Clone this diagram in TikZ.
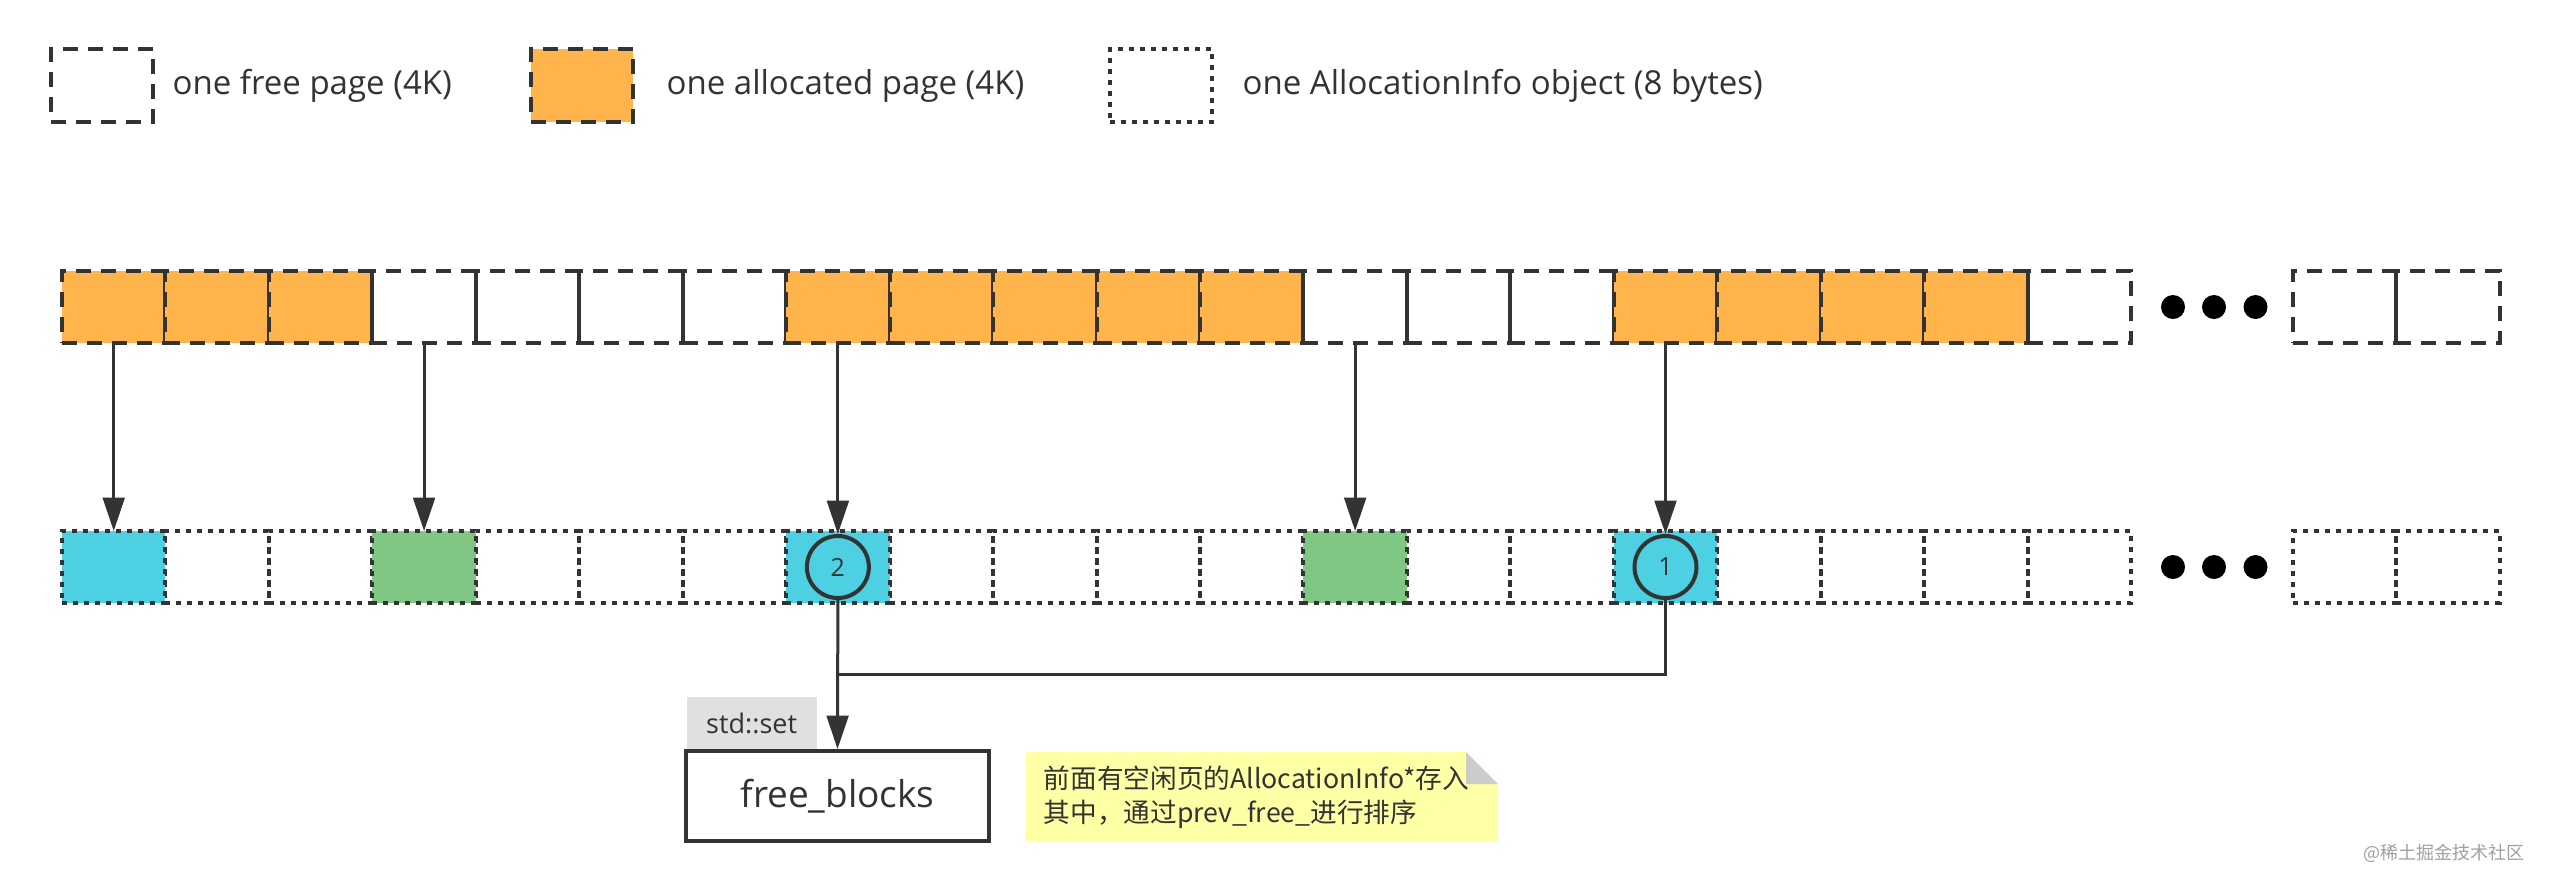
\documentclass[tikz,border=0pt]{standalone}
\usepackage{fontspec}
\setmainfont{Open Sans}
\newfontfamily\cjk{Noto Sans CJK SC}
\usetikzlibrary{arrows.meta}
\definecolor{ink}{HTML}{333333}
\definecolor{alloc}{HTML}{FFB54C}
\definecolor{cyanc}{HTML}{4DD0E1}
\definecolor{greenc}{HTML}{81C784}
\definecolor{notey}{HTML}{FFFFA6}
\definecolor{foldg}{HTML}{CCCCCC}
\definecolor{setg}{HTML}{E0E0E0}
\definecolor{wmark}{HTML}{A0A0A0}
\begin{document}
\begin{tikzpicture}[x=0.3pt,y=-0.3pt,
  pagecell/.style={draw=ink, line width=1.2pt, dash pattern=on 4.5pt off 3pt,
    minimum width=31.03pt, minimum height=21.6pt, inner sep=0pt, outer sep=0pt},
  infocell/.style={draw=ink, line width=1.2pt, dash pattern=on 1.5pt off 1.8pt,
    minimum width=31.03pt, minimum height=21.6pt, inner sep=0pt, outer sep=0pt},
  legbox/.style={draw=ink, line width=1.2pt, minimum width=30.6pt, minimum height=21.9pt,
    inner sep=0pt, outer sep=0pt},
  legtext/.style={anchor=west, text=ink, inner sep=0pt, font=\fontsize{9.9pt}{12pt}\selectfont},
  dotc/.style={circle, fill=black, minimum size=7.2pt, inner sep=0pt},
  ring/.style={circle, draw=ink, line width=1.2pt, minimum size=18.6pt, inner sep=0pt,
    text=ink, font=\fontsize{7.5pt}{9pt}\selectfont},
  conn/.style={draw=ink, line width=0.9pt, -{Triangle[length=10pt,width=6.5pt]}},
  plain/.style={draw=ink, line width=0.9pt}
]
\useasboundingbox (0,0) rectangle (2550,889);
\fill[white] (0,0) rectangle (2550,889);

% legend
\node[legbox, dash pattern=on 4.5pt off 3pt] (leg1) at (102,85.5) {};
\node[legtext] (legt1) at (172,86) {one free page (4K)};
\node[legbox, fill=alloc, dash pattern=on 4.5pt off 3pt] (leg2) at (582,85.5) {};
\node[legtext] (legt2) at (666,86) {one allocated page (4K)};
\node[legbox, dash pattern=on 1.5pt off 1.8pt] (leg3) at (1160.5,85.5) {};
\node[legtext] (legt3) at (1242,86) {one AllocationInfo object (8 bytes)};

% top row: pages
\foreach \i in {0,...,19} {
  \pgfmathsetmacro{\cx}{62+\i*103.45+51.725}
  \pgfmathtruncatemacro{\isalloc}{(\i<3) || (\i>6 && \i<12) || (\i>14 && \i<19) ? 1 : 0}
  \ifnum\isalloc=1
    \node[pagecell, fill=alloc] (t\i) at (\cx,307) {};
  \else
    \node[pagecell] (t\i) at (\cx,307) {};
  \fi
}
\node[pagecell] (tr1) at (2344.6,307) {};
\node[pagecell] (tr2) at (2448,307) {};
\node[dotc] (td1) at (2173,307) {};
\node[dotc] (td2) at (2214,307) {};
\node[dotc] (td3) at (2255.5,307) {};

% bottom row: AllocationInfo objects
\foreach \i in {0,...,19} {
  \pgfmathsetmacro{\cx}{62+\i*103.45+51.725}
  \node[infocell] (b\i) at (\cx,567) {};
}
\node[infocell, fill=cyanc] at (b0.center) {};
\node[infocell, fill=greenc] at (b3.center) {};
\node[infocell, fill=cyanc] at (b7.center) {};
\node[infocell, fill=greenc] at (b12.center) {};
\node[infocell, fill=cyanc] at (b15.center) {};
\node[infocell] (br1) at (2344.6,567) {};
\node[infocell] (br2) at (2448,567) {};
\node[dotc] (bd1) at (2173,567) {};
\node[dotc] (bd2) at (2214,567) {};
\node[dotc] (bd3) at (2255.5,567) {};

% numbered markers
\node[ring] (c2) at (b7.center) {2};
\node[ring] (c1) at (b15.center) {1};

% arrows page -> info
\draw[conn] (t0.south) -- (b0.north);
\draw[conn] (t3.south) -- (b3.north);
\draw[conn] (t7.south) -- (c2.north);
\draw[conn] (t12.south) -- (b12.north);
\draw[conn] (t15.south) -- (c1.north);

% std::set free_blocks
\node[draw=ink, line width=1.2pt, minimum width=90.9pt, minimum height=27pt, inner sep=0pt,
  text=ink, font=\fontsize{11.1pt}{13pt}\selectfont] (fb) at (837.5,796) {free\_blocks};
\node[fill=setg, anchor=south west, minimum width=39pt, minimum height=15.6pt, inner sep=0pt,
  text=ink, font=\fontsize{8.1pt}{10pt}\selectfont] (stdset) at (686,750) {std::set};

\coordinate (j) at (837.9,674);
\draw[plain] (c1.south) |- (j);
\draw[conn] (c2.south) -- (fb.north);

% note
\fill[notey] (1026,752) -- (1466,752) -- (1498,784) -- (1498,841) -- (1026,841) -- cycle;
\fill[foldg] (1466,752) -- (1498,784) -- (1466,784) -- cycle;
\node[anchor=west, align=left, inner sep=0pt, text=ink,
  font=\cjk\fontsize{8pt}{10.2pt}\selectfont] (note) at (1043,797)
  {前面有空闲页的AllocationInfo*存入\\其中，通过prev\_free\_进行排序};

% watermark
\node[anchor=east, text=wmark, inner sep=0pt, font=\cjk\fontsize{5.4pt}{6pt}\selectfont] (wm) at (2525,853) {@稀土掘金技术社区};
\end{tikzpicture}
\end{document}
